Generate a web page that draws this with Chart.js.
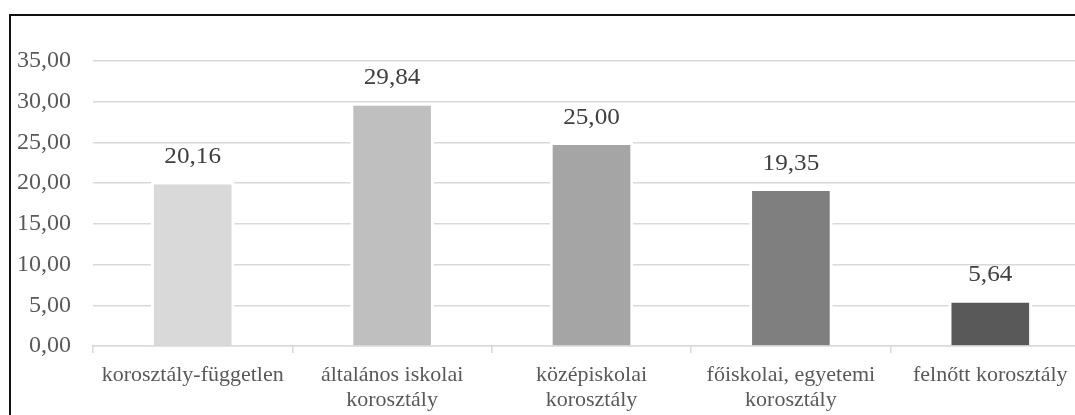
<!DOCTYPE html>
<html>
<head>
<meta charset="utf-8">
<script src="https://cdn.jsdelivr.net/npm/chart.js@4.4.1/dist/chart.umd.min.js"></script>
<style>
  html, body { margin: 0; padding: 0; background: #fff; overflow: hidden; width: 1075px; height: 415px; }
  #frame { position: absolute; left: 9px; top: 14px; border-left: 2px solid #111; border-top: 2px solid #111; width: 1100px; height: 420px; }
  #wrap { position: absolute; left: 0; top: 0; width: 1079px; height: 400px; }
</style>
</head>
<body>
<div id="frame"><div id="wrap"><canvas id="c" width="1079" height="400"></canvas></div></div>
<script>
const categories = [
  'korosztály-független',
  ['általános iskolai', 'korosztály'],
  ['középiskolai', 'korosztály'],
  ['főiskolai, egyetemi', 'korosztály'],
  'felnőtt korosztály'
];
const values = [20.16, 29.84, 25.00, 19.35, 5.64];
const barColors = ['#d9d9d9', '#bfbfbf', '#a5a5a5', '#7f7f7f', '#595959'];
const yTicks = [0, 5, 10, 15, 20, 25, 30, 35];

const fmt = v => Number(v).toFixed(2).replace('.', ',');
const FONT = "'Liberation Serif', 'Times New Roman', serif";

const labelPlugin = {
  id: 'valueLabels',
  afterDatasetsDraw(chart) {
    const ctx = chart.ctx;
    const meta = chart.getDatasetMeta(0);
    const ys = chart.scales.y;
    ctx.save();
    ctx.font = "24px " + FONT;
    ctx.fillStyle = '#404040';
    ctx.textAlign = 'center';
    ctx.textBaseline = 'middle';
    meta.data.forEach((el, i) => {
      const v = chart.data.datasets[0].data[i];
      ctx.save();
      ctx.translate(el.x, ys.getPixelForValue(v) - 25);
      ctx.scale(1.05, 1);
      ctx.fillText(fmt(v), 0, 0);
      ctx.restore();
    });
    ctx.restore();
  }
};

new Chart(document.getElementById('c'), {
  type: 'bar',
  data: {
    labels: categories,
    datasets: [{
      data: values,
      backgroundColor: barColors,
      borderColor: '#ffffff',
      borderWidth: 3,
      borderSkipped: 'bottom',
      barThickness: 83
    }]
  },
  options: {
    responsive: false,
    animation: false,
    devicePixelRatio: 1,
    layout: { padding: { top: 45, right: 0, bottom: 0, left: 0 } },
    plugins: { legend: { display: false }, tooltip: { enabled: false } },
    scales: {
      x: {
        grid: { display: true, drawOnChartArea: false, drawTicks: true, tickLength: 7, color: '#d9d9d9', lineWidth: 1.5, offset: true },
        border: { display: true, color: '#d9d9d9', width: 1.5 },
        ticks: { color: '#595959', font: { family: FONT, size: 22, lineHeight: 1.13 }, padding: 10, maxRotation: 0, autoSkip: false },
        afterFit(scale) { scale.height = 70; }
      },
      y: {
        min: 0, max: 35,
        afterBuildTicks(scale) { scale.ticks = yTicks.map(v => ({ value: v })); },
        grid: { color: '#d9d9d9', lineWidth: 1.5, drawTicks: false },
        border: { display: false },
        ticks: { color: '#595959', font: { family: FONT, size: 24 }, padding: 22, callback: v => fmt(v) },
        afterFit(scale) { scale.width = 82; }
      }
    }
  },
  plugins: [labelPlugin]
});
</script>
</body>
</html>
